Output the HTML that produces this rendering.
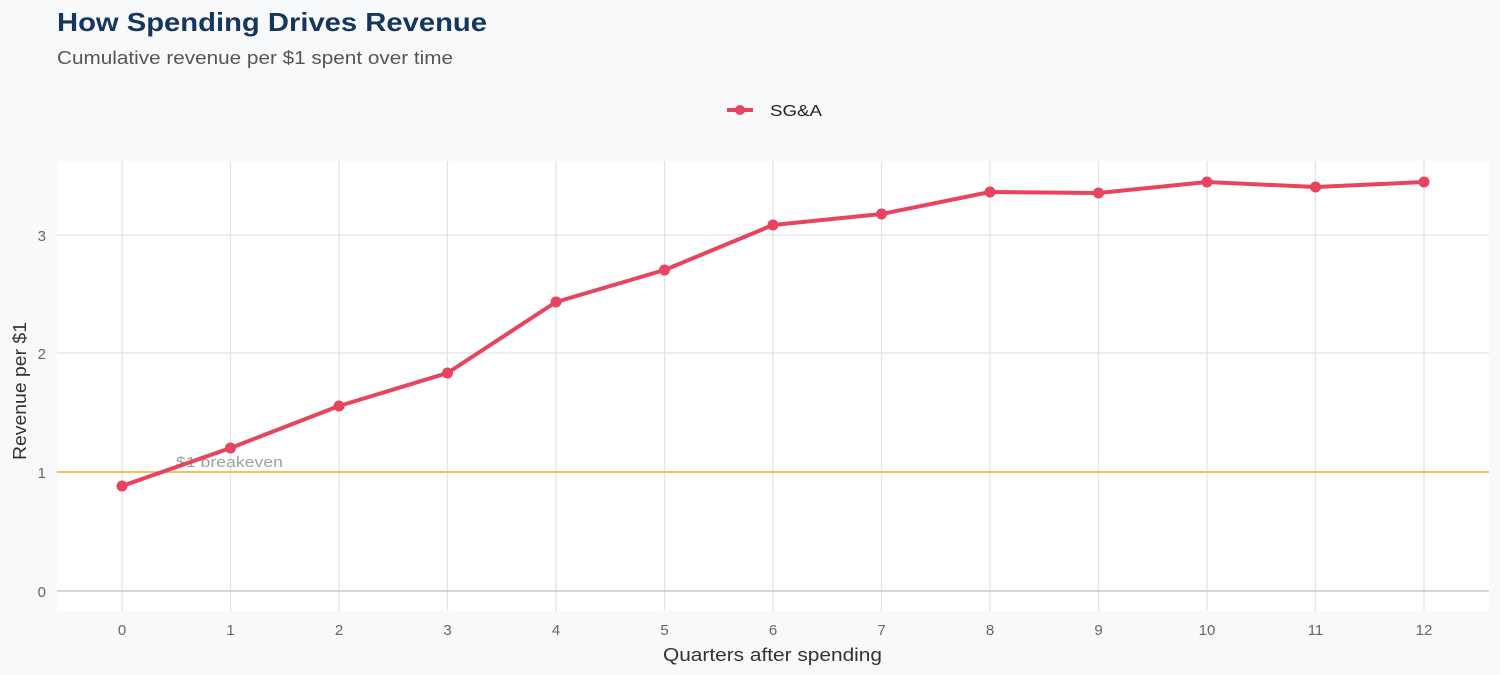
<!DOCTYPE html>
<html><head><meta charset="utf-8"><style>
html,body{margin:0;padding:0;background:#f8f9fb;}
svg{display:block;font-family:"Liberation Sans",sans-serif;}
</style></head><body>
<svg width="1500" height="675" viewBox="0 0 1500 675">
<rect width="1500" height="675" fill="#f8f9fb"/>
<text x="57" y="31" font-size="26" font-weight="bold" fill="#14365f" textLength="430" lengthAdjust="spacingAndGlyphs">How Spending Drives Revenue</text>
<text x="57" y="64" font-size="18" fill="#555" textLength="396" lengthAdjust="spacingAndGlyphs">Cumulative revenue per $1 spent over time</text>
<line x1="727" y1="110" x2="753" y2="110" stroke="#e8435f" stroke-width="4"/>
<circle cx="740" cy="110" r="5" fill="#e8435f"/>
<text x="770" y="116" font-size="16" fill="#222" textLength="52" lengthAdjust="spacingAndGlyphs">SG&amp;A</text>
<rect x="57" y="161" width="1432" height="450" fill="#fff"/>
<g stroke="#e3e3e3" stroke-width="1.3">
<line x1="57" x2="1489" y1="472" y2="472"/>
<line x1="57" x2="1489" y1="353" y2="353"/>
<line x1="57" x2="1489" y1="235" y2="235"/>
<line x1="122" x2="122" y1="161" y2="611"/>
<line x1="230.5" x2="230.5" y1="161" y2="611"/>
<line x1="339" x2="339" y1="161" y2="611"/>
<line x1="447.5" x2="447.5" y1="161" y2="611"/>
<line x1="556" x2="556" y1="161" y2="611"/>
<line x1="664.5" x2="664.5" y1="161" y2="611"/>
<line x1="773" x2="773" y1="161" y2="611"/>
<line x1="881.5" x2="881.5" y1="161" y2="611"/>
<line x1="990" x2="990" y1="161" y2="611"/>
<line x1="1098.5" x2="1098.5" y1="161" y2="611"/>
<line x1="1207" x2="1207" y1="161" y2="611"/>
<line x1="1315.5" x2="1315.5" y1="161" y2="611"/>
<line x1="1424" x2="1424" y1="161" y2="611"/>
</g>
<line x1="57" x2="1489" y1="591" y2="591" stroke="#c8c8c8" stroke-width="1.5"/>
<line x1="57" x2="1489" y1="472" y2="472" stroke="#f2c35f" stroke-width="2"/>
<text x="176" y="467" font-size="15" fill="#a0a0a0" textLength="107" lengthAdjust="spacingAndGlyphs">$1 breakeven</text>
<polyline fill="none" stroke="#e8435f" stroke-width="4" stroke-linejoin="round" points="122,486 230.5,448 339,406 447.5,373 556,302 664.5,270 773,225 881.5,214 990,192 1098.5,193 1207,182 1315.5,187 1424,182"/>
<g fill="#e8435f">
<circle cx="122" cy="486" r="5.5"/><circle cx="230.5" cy="448" r="5.5"/><circle cx="339" cy="406" r="5.5"/><circle cx="447.5" cy="373" r="5.5"/><circle cx="556" cy="302" r="5.5"/><circle cx="664.5" cy="270" r="5.5"/><circle cx="773" cy="225" r="5.5"/><circle cx="881.5" cy="214" r="5.5"/><circle cx="990" cy="192" r="5.5"/><circle cx="1098.5" cy="193" r="5.5"/><circle cx="1207" cy="182" r="5.5"/><circle cx="1315.5" cy="187" r="5.5"/><circle cx="1424" cy="182" r="5.5"/>
</g>
<g font-size="15" fill="#666" text-anchor="end">
<text x="46" y="597">0</text><text x="46" y="478">1</text><text x="46" y="359">2</text><text x="46" y="241">3</text>
</g>
<g font-size="15" fill="#666" text-anchor="middle">
<text x="122" y="635">0</text><text x="230.5" y="635">1</text><text x="339" y="635">2</text><text x="447.5" y="635">3</text><text x="556" y="635">4</text><text x="664.5" y="635">5</text><text x="773" y="635">6</text><text x="881.5" y="635">7</text><text x="990" y="635">8</text><text x="1098.5" y="635">9</text><text x="1207" y="635">10</text><text x="1315.5" y="635">11</text><text x="1424" y="635">12</text>
</g>
<text x="663" y="661" font-size="18" fill="#333" textLength="219" lengthAdjust="spacingAndGlyphs">Quarters after spending</text>
<text transform="translate(26,460) rotate(-90)" font-size="18" fill="#333" textLength="138" lengthAdjust="spacingAndGlyphs">Revenue per $1</text>
</svg>
</body></html>
